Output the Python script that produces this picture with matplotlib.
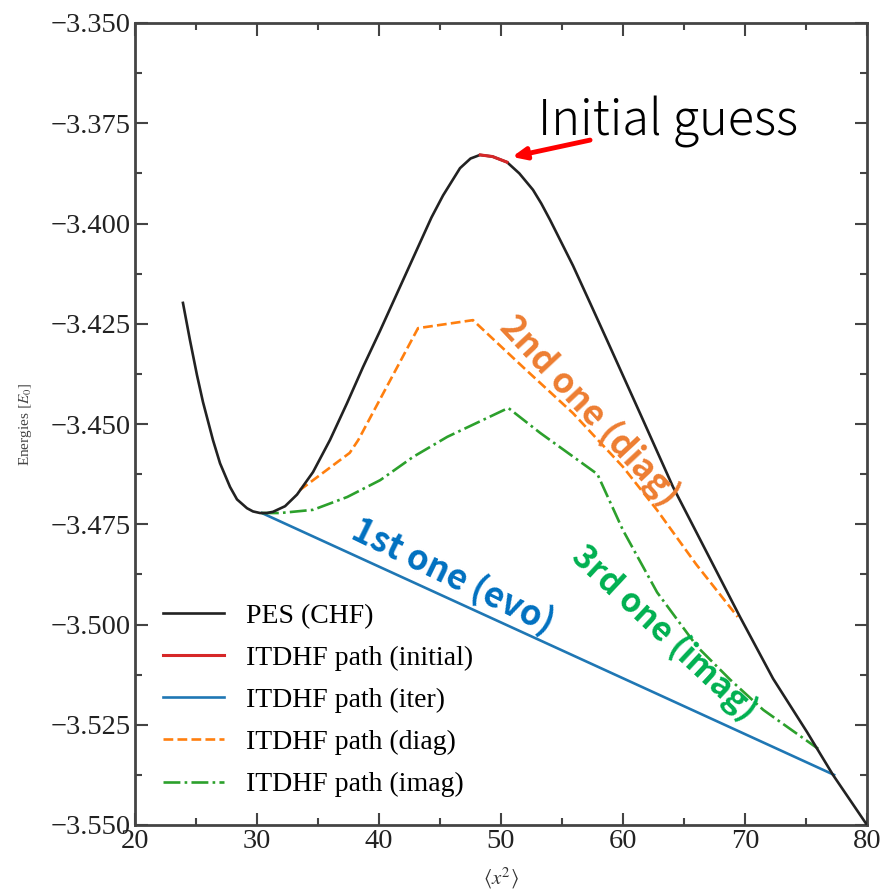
import matplotlib
matplotlib.use("Agg")
import matplotlib.pyplot as plt
from matplotlib.ticker import MultipleLocator, FuncFormatter

# ---- data ----
pes_x = [23.93, 24.5, 25.08, 25.57, 26.39, 26.97, 27.79, 28.36, 29.18, 29.67,
         30.25, 30.8, 31.31, 32.3, 33.28, 34.59, 35.98, 37.38, 38.69, 40.08,
         41.72, 43.36, 44.3, 45.25, 46.64, 47.5, 48.28, 49.3, 50.49, 51.5,
         52.62, 53.3, 54.02, 55.90, 57.3, 58.69, 61.39, 64.10, 65.49, 69.59,
         72.30, 75.08, 77.21, 80.0]
pes_y = [-3.4198, -3.4290, -3.4378, -3.4445, -3.4540, -3.4598, -3.4657, -3.4688,
         -3.4710, -3.4718, -3.4722, -3.4722, -3.4719, -3.4705, -3.4676, -3.4620,
         -3.4540, -3.4448, -3.4358, -3.4268, -3.4158, -3.4048, -3.3985, -3.3930,
         -3.3862, -3.3838, -3.3829, -3.3833, -3.3847, -3.3875, -3.3916, -3.3950,
         -3.3991, -3.4105, -3.4198, -3.4291, -3.4473, -3.4657, -3.4739, -3.4981,
         -3.5135, -3.5268, -3.5375, -3.5500]

init_x = [48.3, 49.3, 50.49]
init_y = [-3.3829, -3.3833, -3.3847]

iter_x = [30.4, 77.3]
iter_y = [-3.4722, -3.5375]

diag_x = [33.5, 37.6, 38.3, 43.2, 47.7, 51.8, 55.9, 60.0, 62.8, 66.0, 69.4]
diag_y = [-3.4665, -3.4572, -3.4540, -3.4261, -3.4241, -3.4358, -3.4473,
          -3.4607, -3.4715, -3.4850, -3.4981]

imag_x = [30.4, 31.9, 34.6, 37.4, 40.1, 42.8, 45.6, 50.6, 53.2, 57.9, 60.0,
          62.8, 66.1, 68.8, 71.5, 76.0]
imag_y = [-3.4722, -3.4722, -3.4714, -3.4682, -3.4640, -3.4582, -3.4532,
          -3.4460, -3.4522, -3.4625, -3.4765, -3.4920, -3.5056, -3.5138,
          -3.5213, -3.5310]

series_labels = ["PES (CHF)", "ITDHF path (initial)", "ITDHF path (iter)",
                 "ITDHF path (diag)", "ITDHF path (imag)"]

x_ticks = [20, 30, 40, 50, 60, 70, 80]
y_ticks = [-3.550, -3.525, -3.500, -3.475, -3.450, -3.425, -3.400, -3.375, -3.350]

# ---- figure ----
plt.rcParams['mathtext.fontset'] = 'stix'
serif = ['Liberation Serif', 'DejaVu Serif']
W, H = 883, 893
fig = plt.figure(figsize=(W / 100, H / 100), dpi=100)
ax = fig.add_axes([135 / W, 1 - 825 / H, 732 / W, 802 / H])

ax.plot(pes_x, pes_y, color='#222222', lw=1.9, label=series_labels[0], zorder=3)
ax.plot(init_x, init_y, color='#d62728', lw=2.2, label=series_labels[1], zorder=4)
ax.plot(iter_x, iter_y, color='#1f77b4', lw=1.9, label=series_labels[2], zorder=2)
ax.plot(diag_x, diag_y, color='#ff7f0e', lw=1.9, ls='--', label=series_labels[3], zorder=2)
ax.plot(imag_x, imag_y, color='#2ca02c', lw=1.9, ls='-.', label=series_labels[4], zorder=2)

ax.set_xlim(20, 80)
ax.set_ylim(-3.55, -3.35)
ax.set_xticks(x_ticks)
ax.set_yticks(y_ticks)
ax.xaxis.set_minor_locator(MultipleLocator(5))
ax.yaxis.set_minor_locator(MultipleLocator(0.0125))
ax.yaxis.set_major_formatter(FuncFormatter(lambda v, p: f'{v:.3f}'.replace('-', '\u2212')))
ax.tick_params(which='both', direction='in', top=True, right=True,
               width=1.5, color='#444444', labelsize=20.5, pad=3)
ax.tick_params(which='major', length=9)
ax.tick_params(which='minor', length=5)
for lab in ax.get_xticklabels() + ax.get_yticklabels():
    lab.set_family(serif)
    lab.set_color('#222222')
for sp in ax.spines.values():
    sp.set_linewidth(2.0)
    sp.set_color('#444444')

ax.set_xlabel(r'$\langle x^2 \rangle$', fontsize=15, labelpad=8, color='#333333')
ax.set_ylabel(r'Energies $[E_0]$', fontsize=11, family=serif, labelpad=12, color='#444444')

leg = ax.legend(loc='upper left', bbox_to_anchor=(0.0, 0.311), frameon=False,
                prop={'family': serif, 'size': 20}, handlelength=2.2,
                handletextpad=0.8, labelspacing=0.6, borderaxespad=0.6)

# annotations
cjk = ['Noto Sans CJK JP', 'DejaVu Sans']
ax.annotate('', xy=(50.9, -3.3834), xytext=(57.3, -3.3792),
            arrowprops=dict(arrowstyle='-|>,head_length=0.8,head_width=0.35',
                            color='red', lw=3.5, shrinkA=0, shrinkB=0))
fig.text(538 / W, 1 - 135 / H, 'Initial guess', family=cjk, fontsize=35,
         ha='left', va='baseline', color='black', fontweight='light')
ax.text(57.3, -3.4465, '2nd one (diag)', family=cjk, fontsize=25, color='#ED7D31',
        rotation=-47, rotation_mode='anchor', ha='center', va='center', fontweight='bold')
ax.text(46.1, -3.4880, '1st one (evo)', family=cjk, fontsize=25, color='#0070C0',
        rotation=-26, rotation_mode='anchor', ha='center', va='center', fontweight='bold')
ax.text(63.4, -3.5021, '3rd one (imag)', family=cjk, fontsize=24, color='#00B050',
        rotation=-43, rotation_mode='anchor', ha='center', va='center', fontweight='bold')

fig.savefig('out.png', dpi=100)
